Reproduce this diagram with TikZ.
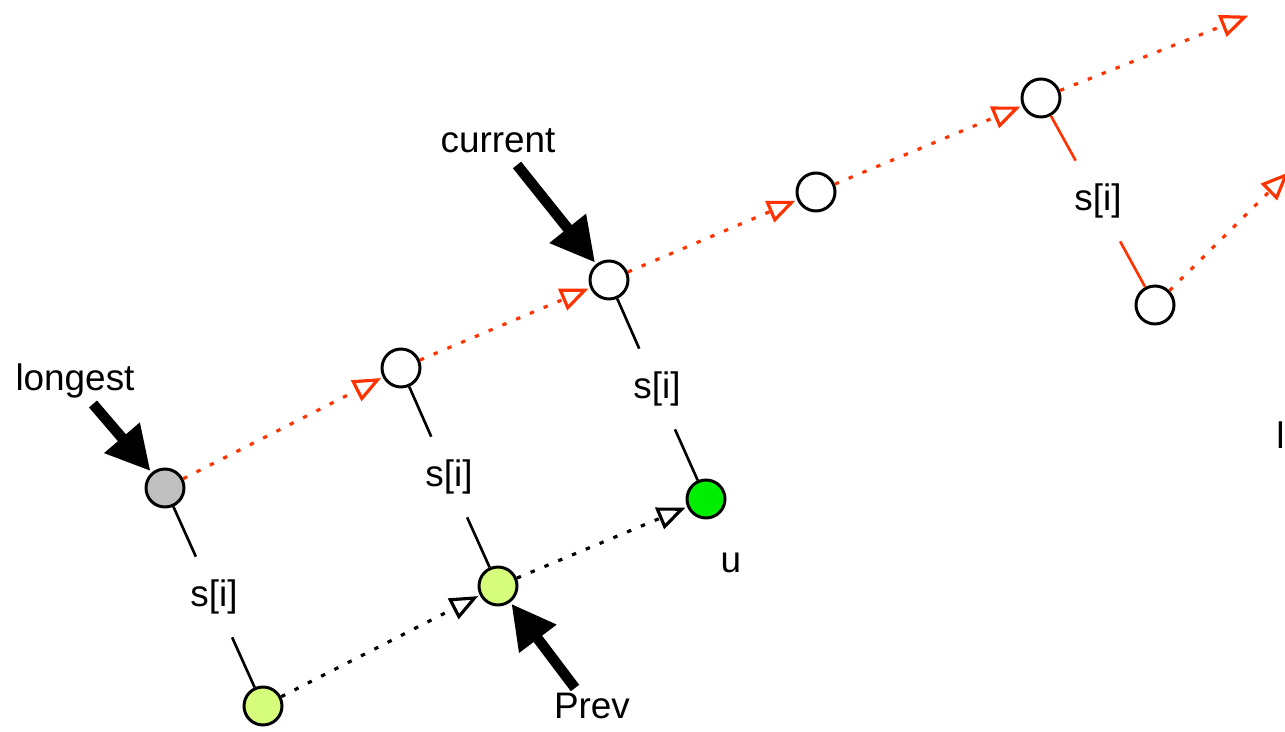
\documentclass[tikz,border=0pt]{standalone}
\usepackage{fontspec}
\setmainfont{Liberation Sans}
\usetikzlibrary{arrows.meta}
\definecolor{myred}{HTML}{FF3300}
\definecolor{lightg}{HTML}{D5FC7B}
\definecolor{brightg}{HTML}{00EE00}
\definecolor{grayfill}{HTML}{C0C0C0}
\begin{document}
\begin{tikzpicture}[x=0.02cm,y=-0.02cm,
  vtx/.style={circle,draw=black,line width=1.7pt,minimum size=0.76cm,inner sep=0pt,fill=white},
  lbl/.style={font=\fontsize{21}{25}\selectfont, inner sep=0pt},
  slab/.style={lbl, minimum height=1.6cm, minimum width=0.9cm},
  link/.style={line width=1.5pt},
  dotarr/.style={line width=1.8pt, dash pattern=on 2.5pt off 6pt, -{Triangle[open,length=16pt,width=13pt,line width=1.8pt]}, shorten >=1pt},
  bigarr/.style={line width=6pt, -{Triangle[length=25pt,width=25pt]}, shorten >=1pt}
]
\useasboundingbox (0,0) rectangle (1285,732);
\clip (0,0) rectangle (1285,732);

% vertices
\node[vtx, fill=grayfill] (g) at (165,488) {};
\node[vtx] (a) at (401,368) {};
\node[vtx] (c) at (609,280) {};
\node[vtx] (b) at (816,192) {};
\node[vtx] (d) at (1041,98) {};
\node[vtx] (e) at (1155,305) {};
\node[vtx, fill=brightg] (u) at (706,499) {};
\node[vtx, fill=lightg] (p) at (498,586) {};
\node[vtx, fill=lightg] (q) at (263,706) {};

% s[i] labels
\node[slab] (s1) at (214,597) {s[i]};
\node[slab] (s2) at (449,477) {s[i]};
\node[slab] (s3) at (657,389) {s[i]};
\node[slab] (s4) at (1098,201) {s[i]};

% text labels
\node[lbl] (tcur) at (498,141) {current};
\node[lbl] (tlong) at (75,381) {longest};
\node[lbl] (tprev) at (592,706) {Prev};
\node[lbl] (tu) at (731,563) {u};
\node[lbl, anchor=west] (tl) at (1276,435) {l};

% off-canvas ends
\coordinate (o1) at (1250,15);
\coordinate (o2) at (1290,171);

% solid links
\draw[link] (g) -- (s1);
\draw[link] (s1) -- (q);
\draw[link] (a) -- (s2);
\draw[link] (s2) -- (p);
\draw[link] (c) -- (s3);
\draw[link] (s3) -- (u);
\draw[link, myred] (d) -- (s4);
\draw[link, myred] (s4) -- (e);

% red dotted arrows
\draw[dotarr, myred] (g) -- (a);
\draw[dotarr, myred] (a) -- (c);
\draw[dotarr, myred] (c) -- (b);
\draw[dotarr, myred] (b) -- (d);
\draw[dotarr, myred] (d) -- (o1);
\draw[dotarr, myred] (e) -- (o2);

% black dotted arrows
\draw[dotarr] (q) -- (p);
\draw[dotarr] (p) -- (u);

% pointer arrows
\coordinate (sc) at (517,165);
\coordinate (sl) at (93,404);
\coordinate (sp) at (575,688);
\draw[bigarr] (sc) -- (c);
\draw[bigarr] (sl) -- (g);
\draw[bigarr] (sp) -- (p);
\end{tikzpicture}
\end{document}
